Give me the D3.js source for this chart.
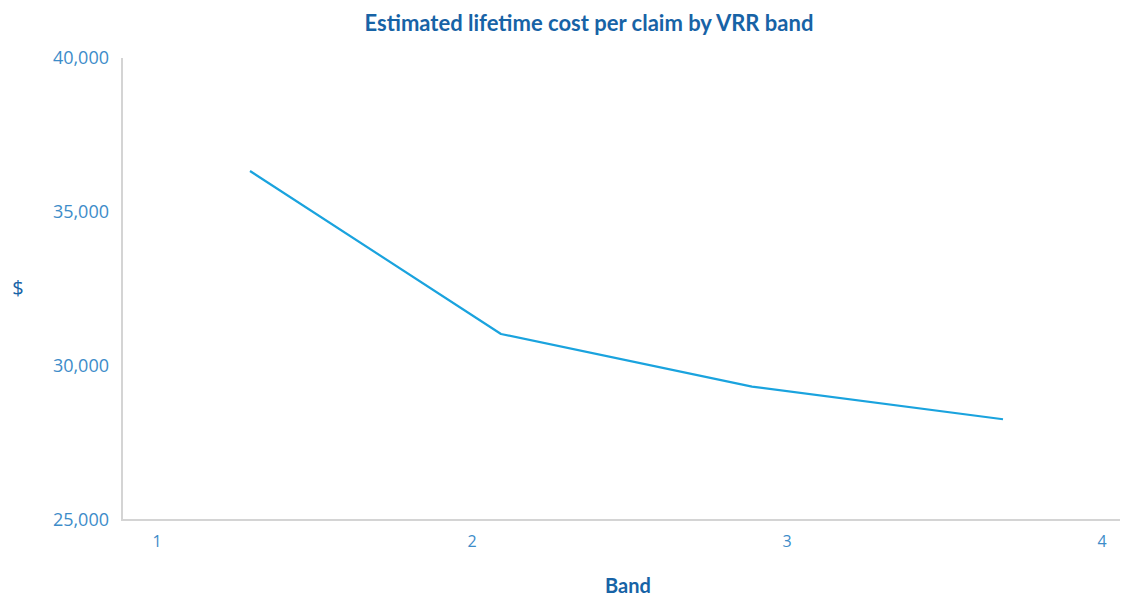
<!DOCTYPE html>
<html>
<head>
<meta charset="utf-8">
<script src="https://cdn.jsdelivr.net/npm/d3@7"></script>
<style>
  html, body { margin: 0; padding: 0; background: #fff; }
  svg { display: block; }
</style>
</head>
<body>
<svg id="chart" width="1123" height="596"></svg>
<script>
// Estimated lifetime cost per claim, by VRR band
const bands = [1, 2, 3, 4];
const costPerClaim = [36330, 31040, 29330, 28270];
const yTicks = [25000, 30000, 35000, 40000];
const xTicks = [1, 2, 3, 4];

const titleText = "Estimated lifetime cost per claim by VRR band";
const xTitle = "Band";
const yTitle = "$";

const svg = d3.select("#chart");
const plot = { left: 122, right: 1120, top: 58, bottom: 520 };

const y = d3.scaleLinear().domain([25000, 40000]).range([plot.bottom, plot.top]);
// tick labels along the band axis
const xLab = d3.scaleLinear().domain([1, 4]).range([157, 1102]);
// positions of the series points
const xPt = d3.scalePoint().domain(bands).range([250, 1003]);

const labelColor = "#3d8cc9";
const titleColor = "#1763a6";
const axisColor = "#d4d4d4";

// axis lines
svg.append("line")
  .attr("x1", plot.left).attr("x2", plot.left)
  .attr("y1", plot.top).attr("y2", plot.bottom + 1)
  .attr("stroke", axisColor).attr("stroke-width", 2);
svg.append("line")
  .attr("x1", plot.left - 1).attr("x2", plot.right)
  .attr("y1", plot.bottom).attr("y2", plot.bottom)
  .attr("stroke", axisColor).attr("stroke-width", 2);

// y tick labels
svg.append("g").selectAll("text").data(yTicks).join("text")
  .attr("x", 109)
  .attr("y", d => y(d))
  .attr("dy", "0.35em")
  .attr("text-anchor", "end")
  .attr("font-family", "'Open Sans', sans-serif")
  .attr("font-size", 18)
  .attr("fill", labelColor)
  .text(d => d3.format(",")(d));

// x tick labels
svg.append("g").selectAll("text").data(xTicks).join("text")
  .attr("x", d => xLab(d))
  .attr("y", 541)
  .attr("dy", "0.35em")
  .attr("text-anchor", "middle")
  .attr("font-family", "'Open Sans', sans-serif")
  .attr("font-size", 16)
  .attr("fill", labelColor)
  .text(d => d);

// series line
const line = d3.line()
  .x((d, i) => xPt(bands[i]))
  .y(d => y(d));
svg.append("path")
  .datum(costPerClaim)
  .attr("d", line)
  .attr("fill", "none")
  .attr("stroke", "#1aa3de")
  .attr("stroke-width", 2.2)
  .attr("stroke-linejoin", "round");

// titles
svg.append("text")
  .attr("x", 589).attr("y", 23).attr("dy", "0.35em")
  .attr("text-anchor", "middle")
  .attr("font-family", "Lato, sans-serif")
  .attr("font-weight", "bold")
  .attr("font-size", 22)
  .attr("fill", titleColor)
  .text(titleText);

svg.append("text")
  .attr("x", 628).attr("y", 586).attr("dy", "0.35em")
  .attr("text-anchor", "middle")
  .attr("font-family", "Lato, sans-serif")
  .attr("font-weight", "bold")
  .attr("font-size", 20)
  .attr("fill", titleColor)
  .text(xTitle);

svg.append("text")
  .attr("x", 18).attr("y", 288).attr("dy", "0.35em")
  .attr("text-anchor", "middle")
  .attr("font-family", "'Open Sans', sans-serif")
  .attr("font-size", 20)
  .attr("fill", titleColor)
  .text(yTitle);
</script>
</body>
</html>
